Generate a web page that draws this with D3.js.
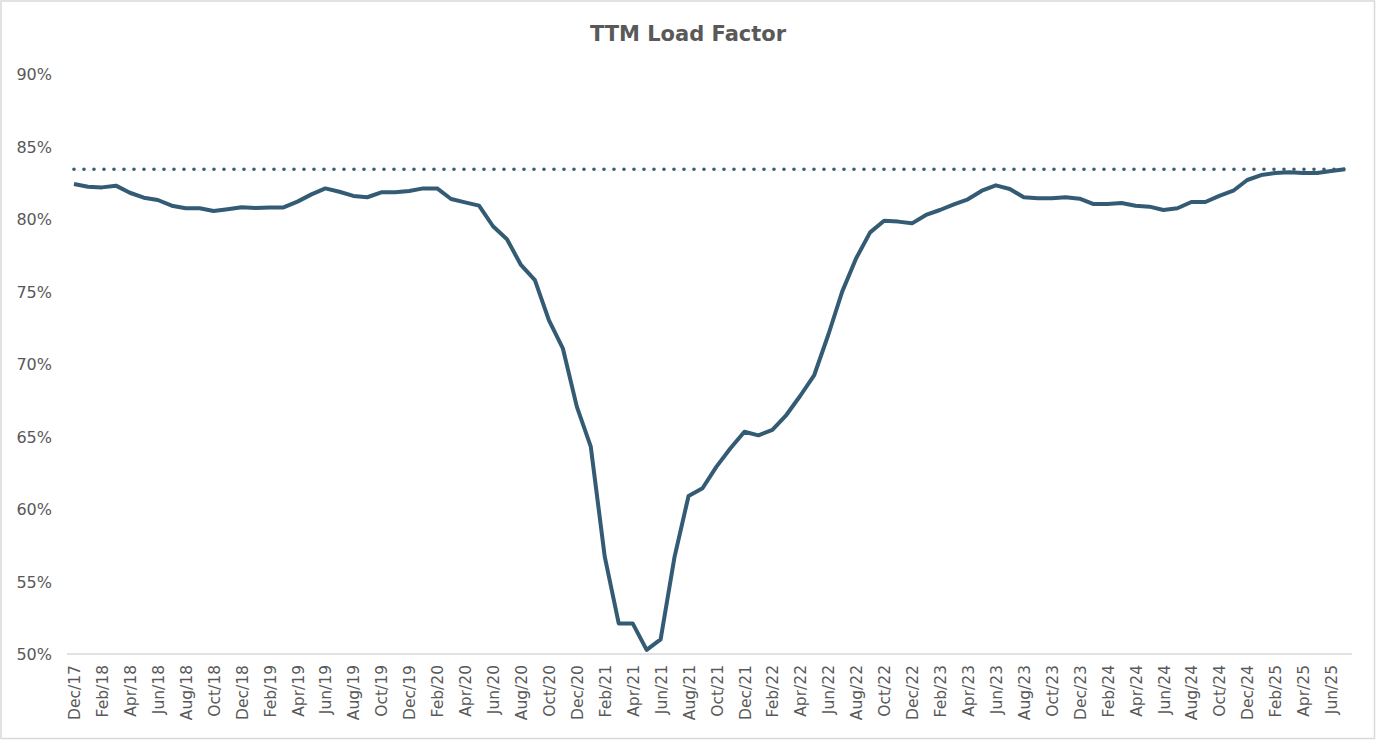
<!DOCTYPE html>
<html>
<head>
<meta charset="utf-8">
<script src="https://cdn.jsdelivr.net/npm/d3@7"></script>
<style>
  html, body { margin: 0; padding: 0; background: #ffffff; }
  svg { display: block; }
</style>
</head>
<body>
<svg id="chart" width="1376" height="740"></svg>
<script>
const months = [
  "Dec/17","Jan/18","Feb/18","Mar/18","Apr/18","May/18","Jun/18","Jul/18","Aug/18","Sep/18","Oct/18","Nov/18",
  "Dec/18","Jan/19","Feb/19","Mar/19","Apr/19","May/19","Jun/19","Jul/19","Aug/19","Sep/19","Oct/19","Nov/19",
  "Dec/19","Jan/20","Feb/20","Mar/20","Apr/20","May/20","Jun/20","Jul/20","Aug/20","Sep/20","Oct/20","Nov/20",
  "Dec/20","Jan/21","Feb/21","Mar/21","Apr/21","May/21","Jun/21","Jul/21","Aug/21","Sep/21","Oct/21","Nov/21",
  "Dec/21","Jan/22","Feb/22","Mar/22","Apr/22","May/22","Jun/22","Jul/22","Aug/22","Sep/22","Oct/22","Nov/22",
  "Dec/22","Jan/23","Feb/23","Mar/23","Apr/23","May/23","Jun/23","Jul/23","Aug/23","Sep/23","Oct/23","Nov/23",
  "Dec/23","Jan/24","Feb/24","Mar/24","Apr/24","May/24","Jun/24","Jul/24","Aug/24","Sep/24","Oct/24","Nov/24",
  "Dec/24","Jan/25","Feb/25","Mar/25","Apr/25","May/25","Jun/25","Jul/25"
];
const loadFactor = [
  82.41, 82.23, 82.18, 82.30, 81.81, 81.47, 81.31, 80.92, 80.74, 80.74, 80.55, 80.67,
  80.81, 80.76, 80.80, 80.80, 81.20, 81.70, 82.11, 81.88, 81.59, 81.50, 81.84, 81.84,
  81.93, 82.11, 82.11, 81.38, 81.15, 80.92, 79.50, 78.60, 76.83, 75.79, 73.03, 71.08,
  67.06, 64.30, 56.71, 52.11, 52.11, 50.28, 51.01, 56.71, 60.90, 61.43, 62.92, 64.19,
  65.33, 65.08, 65.45, 66.48, 67.81, 69.24, 72.00, 74.99, 77.29, 79.08, 79.88, 79.82,
  79.70, 80.28, 80.62, 81.01, 81.36, 81.95, 82.32, 82.07, 81.50, 81.43, 81.43, 81.50,
  81.40, 81.03, 81.03, 81.10, 80.92, 80.85, 80.62, 80.74, 81.17, 81.17, 81.59, 81.95,
  82.69, 83.03, 83.17, 83.22, 83.17, 83.17, 83.31, 83.43
];
const benchmark = 83.43;
const yTicks = [50, 55, 60, 65, 70, 75, 80, 85, 90];
const title = "TTM Load Factor";

(function () {
const svg = d3.select("#chart");
const W = 1376, H = 740;
const mLeft = 67, mRight = 1352, mTop = 74, mBottom = 654;
const textColor = "#595959";
const lineColor = "#335b74";
const fontFamily = "'DejaVu Sans', sans-serif";

// chart border
svg.append("rect")
  .attr("x", 1).attr("y", 1).attr("width", W - 2.5).attr("height", H - 2.5)
  .attr("fill", "#ffffff").attr("stroke", "#d9d9d9").attr("stroke-width", 1.5);

const x = d3.scalePoint().domain(months).range([mLeft, mRight]).padding(0.5);
const y = d3.scaleLinear().domain([50, 90]).range([mBottom, mTop]);

// title
svg.append("text")
  .attr("x", W / 2).attr("y", 41)
  .attr("text-anchor", "middle")
  .attr("font-family", fontFamily).attr("font-weight", "bold").attr("font-size", 21)
  .attr("fill", textColor)
  .text(title);

// y axis (labels only)
const yAxis = d3.axisLeft(y).tickValues(yTicks).tickSize(0).tickPadding(0)
  .tickFormat(d => d + "%");
const gy = svg.append("g").attr("transform", `translate(${52},0)`).call(yAxis);
gy.select(".domain").remove();
gy.selectAll("text")
  .attr("font-family", fontFamily).attr("font-size", 16)
  .attr("fill", textColor).attr("dy", "0.36em");

// x axis
const xAxis = d3.axisBottom(x).tickSize(0).tickPadding(0)
  .tickValues(months.filter((m, i) => i % 2 === 0));
const gx = svg.append("g").attr("transform", `translate(0,${mBottom})`).call(xAxis);
gx.select(".domain")
  .attr("d", `M${mLeft},0H${mRight}`)
  .attr("stroke", "#d9d9d9").attr("stroke-width", 1.6);
gx.selectAll("text")
  .attr("font-family", fontFamily).attr("font-size", 15.5)
  .attr("fill", textColor)
  .attr("text-anchor", "end")
  .attr("transform", "rotate(-90)")
  .attr("x", -11).attr("y", 0).attr("dy", "0.36em");

// benchmark dotted line
const dotted = d3.line().x(d => x(d)).y(() => y(benchmark));
svg.append("path")
  .attr("d", dotted([months[0], months[months.length - 1]]))
  .attr("fill", "none").attr("stroke", lineColor)
  .attr("stroke-width", 3.6).attr("stroke-linecap", "round")
  .attr("stroke-dasharray", "0 10");

// main line
const line = d3.line().x((d, i) => x(months[i])).y(d => y(d));
svg.append("path")
  .attr("d", line(loadFactor))
  .attr("fill", "none").attr("stroke", lineColor)
  .attr("stroke-width", 4).attr("stroke-linejoin", "round").attr("stroke-linecap", "butt");
})();
</script>
</body>
</html>
